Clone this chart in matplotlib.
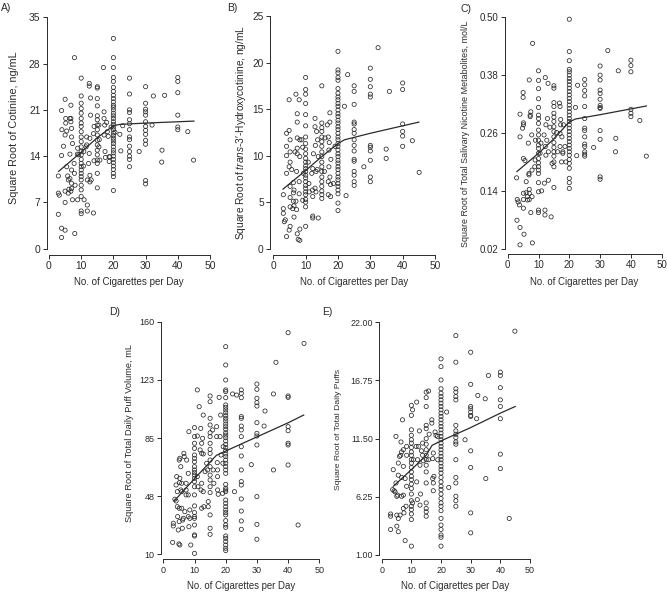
import matplotlib
matplotlib.use("Agg")
import matplotlib.pyplot as plt

plt.rcParams['font.family'] = ['Liberation Sans', 'DejaVu Sans']
plt.rcParams['mathtext.fontset'] = 'custom'
plt.rcParams['mathtext.rm'] = 'Liberation Sans'
plt.rcParams['mathtext.it'] = 'Liberation Sans:italic'

W, H = 667, 593
INK = '#2b2b2b'

# ---- A) cotinine ----
cot_pts = [(2.9, 11.0), (2.9, 8.4), (3.2, 8.1), (2.9, 5.2), (3.9, 3.1), (3.9, 1.7), (3.9, 20.9), (4.5, 15.5),
           (3.9, 14.1), (4.0, 18.0), (5.0, 22.6), (5.0, 17.2), (5.0, 8.7), (5.0, 7.0), (5.0, 2.8), (5.2, 19.7),
           (5.2, 19.0), (5.5, 12.4), (5.5, 17.8), (5.8, 11.0), (6.2, 9.0), (6.0, 8.4), (6.5, 14.3), (6.5, 19.7),
           (6.5, 10.6), (6.0, 10.4), (6.8, 21.7), (6.8, 19.7), (6.8, 19.2), (7.0, 18.2), (7.0, 16.9), (7.3, 15.9),
           (7.0, 11.9), (7.0, 9.9), (7.0, 9.1), (7.3, 7.4), (6.8, 8.7), (7.9, 28.9), (8.0, 2.3), (8.1, 9.6),
           (7.9, 11.4), (7.8, 12.9), (8.9, 15.2), (8.8, 14.3), (8.9, 7.4), (9.2, 14.2), (10.7, 12.5), (10.9, 7.4),
           (10.8, 14.7), (11.9, 6.6), (11.9, 5.7), (11.9, 10.4), (11.7, 15.7), (11.5, 15.4), (11.7, 16.9),
           (12.5, 25.0), (12.5, 24.6), (12.7, 11.1), (12.7, 10.1), (13.1, 10.4), (12.5, 14.4), (12.9, 20.2),
           (12.7, 16.7), (12.3, 12.9), (13.8, 5.4), (12.9, 22.8), (14.0, 18.5), (13.8, 17.4), (14.0, 13.3),
           (15.5, 18.7), (15.6, 16.5), (15.5, 15.4), (15.8, 13.4), (16.9, 27.4), (17.1, 20.7), (17.1, 19.7),
           (17.3, 18.7), (17.1, 17.2), (17.4, 14.7), (17.5, 13.8), (17.9, 19.1), (18.1, 17.7), (18.4, 17.0),
           (18.7, 13.9), (18.7, 13.2), (18.9, 13.9), (19.3, 18.4), (20.5, 17.6), (22.0, 17.3), (22.3, 14.8),
           (22.9, 18.6), (28.0, 14.7), (32.0, 18.7), (32.4, 23.1), (35.1, 14.9), (35.0, 13.1), (35.9, 23.2),
           (43.1, 17.7), (44.9, 13.4)]
cot_cols = {
    10: [25.8, 23.1, 22.0, 21.2, 20.5, 19.7, 19.0, 18.5, 17.7, 16.9, 16.2, 15.4, 14.7, 14.2, 13.5, 12.9, 12.4,
         11.9, 11.4, 10.9, 10.4, 9.6, 8.9, 7.9, 5.7, 5.3],
    15: [24.5, 24.3, 22.7, 21.6, 20.1, 19.5, 18.7, 18.0, 17.2, 16.4, 15.7, 14.9, 14.2, 13.4, 12.9, 11.4, 9.2],
    20: [31.8, 28.9, 27.4, 25.9, 25.3, 24.4, 23.8, 23.2, 22.7, 22.2, 21.7, 21.4, 21.0, 20.5, 20.1, 19.7, 19.2,
         18.8, 18.4, 18.0, 17.5, 17.1, 16.7, 16.3, 15.9, 15.4, 14.9, 14.5, 14.0, 13.5, 13.0, 12.5, 12.0, 11.4,
         10.9, 8.8],
    25: [25.8, 23.4, 21.0, 20.6, 19.5, 18.9, 18.0, 16.9, 16.5, 15.5, 14.7, 14.0, 13.5, 12.4],
    30: [24.5, 22.0, 21.1, 20.7, 20.2, 19.2, 18.5, 17.9, 17.3, 16.4, 15.8, 10.3, 9.8],
    40: [25.9, 25.3, 23.6, 20.2, 18.4, 18.0],
}
cot_fit_x = [3, 10, 15, 20, 22, 30, 40, 45]
cot_fit_y = [11.7, 14.6, 16.8, 18.6, 18.8, 19.0, 19.2, 19.3]

# ---- B) trans-3'-hydroxycotinine ----
hc_pts = [(3.1, 5.8), (3.1, 4.3), (3.1, 3.8), (3.4, 2.9), (3.7, 3.1), (4.1, 1.3), (4.1, 12.4), (4.1, 11.0),
          (4.1, 10.0), (4.1, 8.1), (4.9, 16.0), (4.9, 12.7), (5.2, 11.7), (5.2, 10.4), (5.2, 9.3), (4.9, 8.8),
          (5.2, 6.7), (5.2, 5.5), (5.2, 4.5), (5.2, 2.4), (4.9, 2.0), (5.7, 8.5), (6.2, 7.1), (6.2, 6.0),
          (6.2, 5.1), (6.4, 4.6), (6.0, 4.3), (6.4, 3.4), (6.7, 10.4), (6.4, 6.3), (7.0, 16.6), (7.4, 14.5),
          (7.4, 13.6), (7.4, 11.9), (7.4, 10.8), (7.4, 10.2), (7.2, 8.3), (7.0, 5.1), (7.2, 4.2), (7.4, 1.6),
          (7.7, 1.0), (8.2, 0.9), (8.0, 16.0), (8.2, 11.7), (8.2, 9.9), (8.0, 7.2), (8.0, 5.9), (8.2, 2.1),
          (8.8, 11.7), (9.1, 10.9), (9.3, 8.1), (9.1, 5.2), (10.8, 9.3), (11.0, 7.0), (11.1, 6.1), (11.9, 8.1),
          (12.1, 6.3), (12.2, 5.6), (12.2, 3.5), (12.2, 3.3), (12.2, 8.6), (12.4, 10.2), (12.9, 14.0),
          (12.9, 13.1), (13.0, 11.1), (13.2, 8.3), (12.9, 6.5), (13.2, 6.1), (13.4, 12.6), (13.9, 3.3),
          (13.6, 8.5), (13.9, 9.9), (13.7, 11.7), (15.8, 8.3), (16.0, 11.9), (16.7, 13.3), (17.0, 12.0),
          (17.2, 10.6), (17.0, 7.2), (17.0, 5.8), (17.2, 8.8), (17.5, 13.6), (17.3, 11.4), (17.5, 7.7),
          (17.7, 6.9), (17.8, 9.6), (17.5, 14.6), (17.7, 5.6), (18.6, 7.0), (19.1, 11.0), (22.0, 15.3),
          (22.5, 5.7), (23.0, 18.7), (28.0, 8.8), (32.4, 21.6), (34.9, 10.7), (34.9, 9.7), (35.9, 16.9),
          (43.0, 11.6), (45.1, 8.2)]
hc_cols = {
    10: [18.4, 17.1, 16.6, 15.6, 14.4, 13.2, 12.0, 11.3, 10.7, 10.2, 9.7, 9.3, 8.9, 8.6, 8.3, 7.9, 7.6, 7.2,
         6.8, 6.5, 6.1, 5.8, 5.3, 5.0, 4.5, 2.4],
    15: [17.5, 13.5, 13.0, 12.6, 12.0, 11.5, 11.0, 10.4, 9.9, 9.3, 8.8, 8.3, 7.7, 7.2, 6.7, 6.2, 5.8, 5.4],
    20: [21.2, 19.2, 18.9, 18.4, 18.1, 17.2, 16.7, 16.3, 16.0, 15.6, 15.3, 14.9, 14.5, 14.2, 13.8, 13.5, 13.1,
         12.8, 12.4, 12.0, 11.7, 11.3, 11.0, 10.6, 10.2, 9.9, 9.5, 9.2, 8.8, 8.5, 8.1, 7.7, 7.4, 7.0, 6.7, 6.3,
         5.9, 4.9, 4.1],
    25: [17.5, 16.9, 15.5, 13.6, 13.4, 12.8, 12.4, 11.7, 11.1, 10.5, 9.6, 9.4, 8.3, 7.9, 7.2, 6.8],
    30: [19.4, 18.2, 17.4, 16.6, 16.3, 11.1, 10.9, 10.5, 9.5, 7.7, 7.2],
    40: [17.8, 17.1, 13.4, 12.6, 12.1, 11.0],
}
hc_fit_x = [3, 10, 15, 20, 22, 30, 40, 45]
hc_fit_y = [6.4, 8.4, 9.9, 11.3, 11.7, 12.4, 13.2, 13.6]

# ---- C) total salivary nicotine metabolites ----
tnm_pts = [(2.9, 0.167), (3.1, 0.122), (3.4, 0.117), (3.0, 0.079), (3.8, 0.111), (4.0, 0.064), (4.0, 0.028),
           (4.0, 0.252), (4.0, 0.299), (5.0, 0.344), (5.0, 0.334), (5.1, 0.281), (5.1, 0.277), (5.1, 0.207),
           (5.1, 0.135), (5.1, 0.122), (5.1, 0.104), (5.3, 0.050), (4.8, 0.270), (5.6, 0.203), (6.0, 0.159),
           (6.0, 0.136), (6.4, 0.128), (6.4, 0.121), (6.7, 0.239), (6.9, 0.176), (6.9, 0.173), (7.0, 0.143),
           (7.0, 0.135), (7.0, 0.122), (7.0, 0.370), (7.3, 0.297), (7.3, 0.294), (7.5, 0.304), (8.1, 0.446),
           (8.0, 0.032), (7.8, 0.256), (7.9, 0.183), (7.9, 0.128), (7.5, 0.095), (9.0, 0.245), (8.9, 0.204),
           (8.8, 0.190), (10.5, 0.218), (10.8, 0.239), (11.0, 0.140), (12.2, 0.375), (12.4, 0.277),
           (12.2, 0.232), (12.4, 0.214), (12.1, 0.100), (12.1, 0.090), (11.9, 0.156), (11.8, 0.256),
           (12.9, 0.290), (13.1, 0.363), (13.2, 0.162), (13.2, 0.221), (12.7, 0.245), (14.1, 0.086),
           (13.7, 0.272), (14.4, 0.197), (15.9, 0.261), (16.2, 0.221), (16.8, 0.322), (17.0, 0.315),
           (17.2, 0.288), (17.0, 0.259), (17.0, 0.232), (17.5, 0.200), (17.2, 0.277), (17.9, 0.221),
           (17.9, 0.218), (18.1, 0.277), (17.6, 0.252), (18.6, 0.232), (18.9, 0.200), (22.0, 0.313),
           (22.4, 0.213), (22.7, 0.359), (27.9, 0.230), (32.5, 0.431), (35.1, 0.249), (35.0, 0.221),
           (35.9, 0.389), (42.9, 0.286), (45.0, 0.212)]
tnm_cols = {
    10: [0.389, 0.369, 0.352, 0.331, 0.313, 0.297, 0.290, 0.280, 0.266, 0.256, 0.245, 0.235, 0.228, 0.218,
         0.207, 0.198, 0.190, 0.183, 0.176, 0.157, 0.138, 0.100, 0.095],
    15: [0.358, 0.353, 0.323, 0.315, 0.301, 0.293, 0.284, 0.273, 0.263, 0.252, 0.240, 0.230, 0.221, 0.212,
         0.200, 0.190, 0.147],
    20: [0.496, 0.429, 0.410, 0.392, 0.387, 0.380, 0.373, 0.367, 0.360, 0.353, 0.346, 0.339, 0.332, 0.325,
         0.318, 0.311, 0.304, 0.297, 0.290, 0.284, 0.277, 0.270, 0.263, 0.256, 0.249, 0.242, 0.235, 0.228,
         0.221, 0.214, 0.205, 0.197, 0.187, 0.166, 0.157, 0.145],
    25: [0.371, 0.360, 0.348, 0.337, 0.315, 0.290, 0.270, 0.265, 0.252, 0.237, 0.232, 0.221, 0.216, 0.212],
    30: [0.399, 0.380, 0.370, 0.349, 0.342, 0.330, 0.317, 0.313, 0.311, 0.265, 0.247, 0.169, 0.164],
    40: [0.411, 0.400, 0.387, 0.309, 0.301, 0.294],
}
tnm_fit_x = [3, 10, 15, 20, 22, 30, 40, 45]
tnm_fit_y = [0.180, 0.218, 0.248, 0.283, 0.289, 0.298, 0.310, 0.316]

# ---- D) total daily puff volume ----
vol_pts = [(3.0, 17.7), (3.2, 30.0), (3.2, 28.3), (3.7, 45.5), (4.1, 44.4), (4.1, 54.7), (4.3, 60.1),
           (4.5, 50.4), (4.5, 40.7), (4.6, 34.3), (4.8, 25.7), (5.0, 16.7), (5.3, 16.0), (5.1, 31.1),
           (5.1, 39.7), (5.6, 51.5), (5.3, 59.0), (5.2, 56.2), (5.1, 70.8), (5.3, 71.9), (5.6, 66.5),
           (5.9, 55.8), (5.9, 50.4), (5.9, 39.7), (6.2, 32.1), (6.1, 26.8), (6.4, 33.2), (6.6, 75.1),
           (6.7, 73.0), (6.9, 37.5), (7.3, 55.8), (7.3, 51.5), (7.3, 48.3), (7.5, 70.8), (8.0, 62.2),
           (8.0, 48.3), (8.0, 34.3), (8.2, 89.1), (8.2, 27.8), (8.5, 38.6), (8.5, 33.2), (8.8, 16.0),
           (10.9, 116.0), (10.9, 86.3), (10.9, 60.1), (11.1, 53.6), (11.5, 105.2), (12.0, 91.2), (12.3, 81.6),
           (12.3, 75.1), (12.3, 55.8), (12.1, 51.5), (12.3, 39.7), (11.8, 77.3), (12.8, 99.8), (12.6, 84.8),
           (12.8, 74.7), (13.0, 40.7), (13.4, 63.3), (12.8, 50.4), (13.9, 68.7), (14.2, 64.4), (14.4, 44.0),
           (14.4, 40.7), (15.8, 90.2), (16.0, 64.4), (16.2, 55.8), (17.1, 92.3), (17.1, 85.9), (17.3, 69.1),
           (17.4, 60.1), (17.4, 51.5), (17.6, 48.7), (17.9, 111.2), (17.4, 64.4), (18.4, 99.8), (18.2, 85.9),
           (18.5, 74.0), (19.0, 49.3), (19.2, 79.4), (19.1, 68.7), (22.2, 113.4), (22.8, 50.4), (23.5, 112.7),
           (28.2, 67.8), (32.3, 92.7), (32.6, 102.4), (35.3, 113.4), (35.3, 64.4), (36.1, 133.8),
           (43.2, 28.9), (45.1, 146.0)]
vol_cols = {
    10: [91.7, 85.9, 81.6, 78.3, 74.0, 71.9, 69.7, 66.5, 64.4, 62.7, 61.1, 59.0, 56.9, 53.6, 48.3, 41.2, 36.9,
         34.3, 33.2, 28.9, 22.5, 21.8, 10.6],
    15: [112.1, 108.4, 97.7, 93.4, 88.4, 85.9, 81.6, 77.7, 75.1, 70.8, 66.5, 61.1, 57.9, 53.6, 49.8, 35.4,
         26.8, 22.9],
    20: [143.9, 132.1, 122.4, 116.0, 114.9, 111.0, 106.3, 104.8, 103.1, 101.3, 99.4, 97.7, 96.0, 94.0, 92.3,
         90.6, 88.4, 86.9, 85.2, 83.1, 80.9, 78.8, 76.8, 74.7, 73.0, 70.8, 68.7, 66.5, 64.4, 62.2, 55.1, 52.6,
         51.5, 50.4, 45.0, 42.9, 40.7, 38.6, 36.9, 35.4, 31.7, 28.9, 27.4, 21.8, 20.3, 18.2, 16.0, 13.9, 12.4],
    25: [116.0, 113.8, 111.0, 98.8, 97.7, 92.7, 90.2, 85.9, 79.4, 73.4, 64.4, 56.9, 54.7, 45.7, 37.9, 31.5,
         26.1],
    30: [119.8, 116.4, 110.6, 107.8, 105.6, 94.9, 88.0, 86.3, 80.5, 47.2, 29.3, 19.7],
    40: [152.9, 112.1, 111.2, 92.3, 89.7, 81.6, 80.5, 67.6],
}
vol_fit_x = [3.5, 10, 15, 17, 20, 30, 40, 45]
vol_fit_y = [44.4, 58.8, 69.5, 73.8, 76.6, 85.7, 94.8, 99.8]

# ---- E) total daily puffs ----
puf_pts = [(3.0, 3.3), (3.0, 4.5), (3.0, 4.7), (3.7, 6.9), (3.9, 8.7), (4.2, 6.8), (4.5, 6.7), (4.8, 7.5),
           (4.8, 11.7), (5.1, 6.3), (5.1, 4.6), (5.1, 3.6), (5.6, 3.1), (5.6, 4.3), (5.4, 6.4), (5.6, 8.2),
           (5.6, 9.3), (6.0, 9.9), (6.2, 4.6), (6.4, 10.0), (6.5, 11.2), (6.7, 6.3), (6.7, 8.0), (7.0, 13.2),
           (6.7, 10.3), (7.3, 10.5), (7.3, 9.0), (7.3, 6.4), (7.3, 5.2), (7.5, 4.8), (7.9, 7.9), (7.9, 2.3),
           (8.2, 5.4), (8.4, 10.8), (8.4, 10.0), (8.4, 7.2), (10.4, 14.1), (10.7, 9.6), (10.4, 5.7),
           (11.8, 14.8), (11.8, 7.6), (12.0, 6.0), (11.6, 10.8), (12.1, 9.6), (12.4, 10.8), (12.7, 12.2),
           (12.9, 9.1), (13.1, 6.5), (12.9, 5.5), (13.4, 10.4), (13.8, 11.1), (13.8, 10.0), (14.0, 9.5),
           (15.8, 15.8), (16.0, 11.9), (15.8, 9.6), (16.9, 13.2), (16.9, 12.9), (17.2, 9.7), (17.2, 7.9),
           (17.4, 7.5), (17.4, 6.8), (17.4, 10.2), (18.0, 12.1), (18.3, 11.8), (17.6, 8.1), (18.8, 11.7),
           (18.9, 9.6), (21.9, 13.9), (22.6, 7.1), (28.1, 11.4), (32.0, 13.3), (32.4, 15.4), (34.9, 15.1),
           (35.1, 7.9), (36.0, 17.2), (43.0, 4.3), (44.9, 21.2)]
puf_cols = {
    10: [14.5, 13.6, 12.3, 11.8, 11.4, 11.1, 10.7, 10.3, 10.0, 9.6, 9.3, 8.9, 8.5, 8.1, 7.8, 7.4, 7.0, 6.5,
         5.9, 5.4, 5.1, 4.7, 4.2, 1.8],
    15: [15.7, 15.2, 14.4, 12.7, 12.4, 11.5, 11.0, 10.5, 10.0, 9.6, 9.1, 8.5, 7.5, 5.7, 5.2, 4.9, 4.5],
    20: [18.7, 18.0, 16.8, 16.0, 15.6, 15.3, 15.0, 14.7, 14.4, 14.1, 13.8, 13.5, 13.2, 12.9, 12.6, 12.3, 12.0,
         11.7, 11.4, 11.1, 10.8, 10.5, 10.2, 9.9, 9.6, 9.3, 9.0, 8.7, 8.4, 8.0, 7.6, 7.2, 6.9, 6.5, 6.1, 5.7,
         5.4, 5.0, 4.3, 3.7, 3.3, 2.8, 2.6, 1.8],
    25: [20.8, 18.4, 16.0, 15.7, 15.3, 15.0, 12.7, 12.2, 11.9, 11.6, 11.2, 11.0, 9.6, 8.0, 7.5, 6.3, 5.9, 5.4],
    30: [19.3, 16.4, 14.4, 14.2, 13.9, 13.6, 13.5, 10.4, 8.9, 4.8, 3.0],
    40: [17.5, 17.2, 16.1, 15.0, 14.4, 13.3, 10.1, 8.8],
}
puf_fit_x = [3.9, 10, 15, 17, 20, 30, 40, 45]
puf_fit_y = [7.2, 8.7, 10.0, 10.9, 11.3, 12.5, 13.8, 14.4]

x_ticks = [0, 10, 20, 30, 40, 50]


def panel(fig, left, bottom, x0, x50, ylo_px, yhi_px, yticks, ylabels, tsize):
    """Place axes so the data coords land on the reference pixel positions."""
    right = x50 + 5
    top = yhi_px - 8
    ax = fig.add_axes([left / W, 1 - bottom / H, (right - left) / W, (bottom - top) / H])
    xs = 50 / (x50 - x0)
    ax.set_xlim((left - x0) * xs, (right - x0) * xs)
    ylo, yhi = yticks[0], yticks[-1]
    ys = (yhi - ylo) / (ylo_px - yhi_px)
    ax.set_ylim(ylo - (bottom - ylo_px) * ys, yhi + (yhi_px - top) * ys)
    for s in ['top', 'right']:
        ax.spines[s].set_visible(False)
    for s in ['left', 'bottom']:
        ax.spines[s].set_linewidth(0.7)
        ax.spines[s].set_color(INK)
    ax.spines['left'].set_bounds(ylo, yhi)
    ax.spines['bottom'].set_bounds(0, 50)
    ax.set_xticks(x_ticks)
    ax.set_yticks(yticks)
    ax.set_yticklabels(ylabels)
    ax.tick_params(direction='out', length=3, width=0.7, colors=INK, labelsize=tsize, pad=1.5)
    return ax


def draw(ax, pts, cols, fx, fy):
    xs = [p[0] for p in pts]
    ys = [p[1] for p in pts]
    for cx, vals in cols.items():
        xs += [cx] * len(vals)
        ys += vals
    ax.scatter(xs, ys, s=9, facecolors='none', edgecolors=INK, linewidths=0.55, clip_on=False)
    ax.plot(fx, fy, color=INK, lw=0.9)


fig = plt.figure(figsize=(W / 100, H / 100), dpi=100)

axA = panel(fig, 46.7, 255, 49, 210, 248.7, 17.3, [0, 7, 14, 21, 28, 35], ['0', '7', '14', '21', '28', '35'], 7.4)
draw(axA, cot_pts, cot_cols, cot_fit_x, cot_fit_y)
axB = panel(fig, 270, 255, 273.3, 435, 248.7, 16, [0, 5, 10, 15, 20, 25], ['0', '5', '10', '15', '20', '25'], 7.3)
draw(axB, hc_pts, hc_cols, hc_fit_x, hc_fit_y)
axC = panel(fig, 505, 254, 507.7, 661.7, 248.7, 17.3, [0.02, 0.14, 0.26, 0.38, 0.50],
            ['0.02', '0.14', '0.26', '0.38', '0.50'], 7)
draw(axC, tnm_pts, tnm_cols, tnm_fit_x, tnm_fit_y)
axD = panel(fig, 160.7, 559.3, 163.3, 319.3, 554.3, 321.7, [10, 47.5, 85, 122.5, 160],
            ['10', '48', '85', '123', '160'], 6.5)
draw(axD, vol_pts, vol_cols, vol_fit_x, vol_fit_y)
axE = panel(fig, 379.3, 559.3, 381.7, 530, 555, 322.3, [1, 6.25, 11.5, 16.75, 22],
            ['1.00', '6.25', '11.50', '16.75', '22.00'], 6.4)
draw(axE, puf_pts, puf_cols, puf_fit_x, puf_fit_y)

renderer = fig.canvas.get_renderer()


def fitted_text(x0, x1, y0, y1, s, vertical):
    """Text centred in a pixel box, font size scaled so its length fills the box."""
    cx, cy = (x0 + x1) / 2, (y0 + y1) / 2
    t = fig.text(cx / W, 1 - cy / H, s, color=INK, fontsize=7, ha='center', va='center',
                 rotation=90 if vertical else 0)
    ext = t.get_window_extent(renderer)
    size = ext.height if vertical else ext.width
    target = (y1 - y0) if vertical else (x1 - x0)
    t.set_fontsize(7 * target / size)
    return t


# y labels (pixel extents)
fitted_text(10, 18, 53, 203, 'Square Root of Cotinine, ng/mL', True)
fitted_text(237, 245, 25, 240, r'Square Root of $\mathit{trans}$-3′-Hydroxycotinine, ng/mL', True)
fitted_text(461, 469, 22, 245, 'Square Root of Total Salivary Nicotine Metabolites, mol/L', True)
fitted_text(126, 134, 345, 522, 'Square Root of Total Daily Puff Volume, mL', True)
fitted_text(334, 342, 370, 490, 'Square Root of Total Daily Puffs', True)

# x labels
for x0, x1, cy in [(74, 184, 282), (300, 408, 282), (530, 639, 282), (187, 296, 586), (401, 510, 586)]:
    fitted_text(x0, x1, cy - 4, cy + 4, 'No. of Cigarettes per Day', False)

# panel letters
for lx, ly, s in [(1, 8, 'A)'), (227, 8, 'B)'), (460, 9, 'C)'), (109, 312, 'D)'), (322, 312, 'E)')]:
    fig.text(lx / W, 1 - ly / H, s, color=INK, ha='left', va='center', fontsize=7.5)

fig.savefig('out.png', dpi=100)
